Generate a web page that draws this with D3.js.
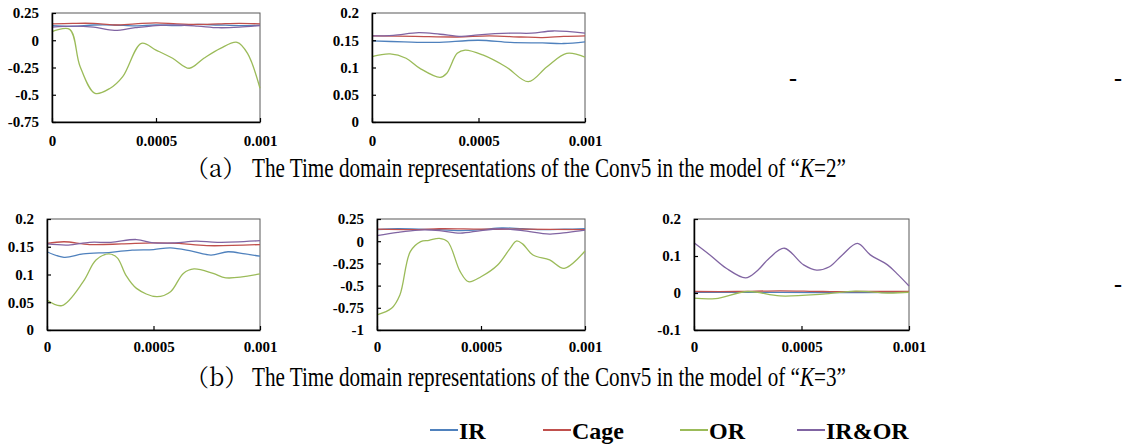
<!DOCTYPE html>
<html>
<head>
<meta charset="utf-8">
<script src="https://cdn.jsdelivr.net/npm/d3@7"></script>
<style>
  body { margin: 0; background: #fff; }
  svg { display: block; }
  .tick text { font-family: "Times New Roman", "Liberation Serif", serif; font-weight: bold; font-size: 15px; fill: #000; }
</style>
</head>
<body>
<svg id="chart" width="1123" height="445"></svg>
<script>
// time is written in units of 1e-5 s
const seriesNames = ["IR", "Cage", "OR", "IR&OR"];
const seriesColors = ["#4f81bd", "#c0504d", "#9bbb59", "#8064a2"];
const xTicks = [0, 0.0005, 0.001];

// (a) K=2, left panel
const a1IR = [[0,0.135],[10,0.128],[20,0.14],[30,0.14],[40,0.132],[50,0.14],[60,0.135],[70,0.145],[80,0.14],[90,0.135],[100,0.138]];
const a1Cage = [[0,0.15],[10,0.155],[20,0.155],[30,0.14],[40,0.15],[50,0.16],[60,0.15],[70,0.145],[80,0.15],[90,0.155],[100,0.15]];
const a1OR = [[0,0.079],[8.5,0.10],[13.5,-0.24],[20.7,-0.487],[28,-0.44],[34,-0.334],[43,-0.028],[50,-0.09],[58,-0.165],[66,-0.257],[73,-0.165],[81,-0.074],[89,-0.019],[94,-0.12],[100,-0.44]];
const a1IROR = [[0,0.12],[10,0.13],[20,0.12],[30,0.09],[40,0.115],[50,0.135],[60,0.14],[70,0.13],[80,0.115],[90,0.12],[100,0.135]];
const a1YTicks = [0.25, 0, -0.25, -0.5, -0.75];

// (a) K=2, middle panel
const a2IR = [[0,0.149],[15,0.147],[30,0.146],[50,0.15],[65,0.146],[80,0.145],[90,0.144],[100,0.147]];
const a2Cage = [[0,0.158],[20,0.157],[40,0.156],[55,0.158],[70,0.156],[80,0.155],[90,0.157],[100,0.158]];
const a2OR = [[0,0.12],[8.5,0.125],[16,0.117],[22.5,0.0985],[32,0.082],[35,0.089],[40,0.126],[43.7,0.132],[52,0.123],[63,0.101],[73.4,0.074],[82,0.101],[91.4,0.126],[100,0.119]];
const a2IROR = [[0,0.158],[10,0.159],[22,0.164],[32,0.161],[42,0.157],[50,0.16],[65,0.163],[75,0.163],[85,0.167],[100,0.163]];
const a2YTicks = [0.2, 0.15, 0.1, 0.05, 0];

// (b) K=3, left panel
const b1IR = [[0,0.141],[8,0.131],[17,0.137],[30,0.14],[40,0.144],[50,0.145],[58,0.148],[68,0.142],[77,0.135],[85,0.141],[93,0.137],[100,0.133]];
const b1Cage = [[0,0.156],[8,0.159],[20,0.154],[35,0.155],[50,0.157],[62,0.156],[75,0.152],[100,0.154]];
const b1OR = [[0,0.054],[7,0.044],[17,0.087],[23,0.126],[29,0.137],[33,0.13],[37,0.099],[42,0.075],[51.5,0.06],[58,0.069],[64,0.102],[69,0.11],[78,0.102],[84,0.094],[100,0.101]];
const b1IROR = [[0,0.155],[10,0.153],[20,0.158],[30,0.158],[42,0.163],[50,0.157],[60,0.157],[70,0.16],[80,0.158],[100,0.161]];
const b1YTicks = [0.2, 0.15, 0.1, 0.05, 0];

// (b) K=3, middle panel
const b2IR = [[0,0.13],[10,0.14],[20,0.135],[30,0.13],[40,0.12],[50,0.13],[60,0.15],[70,0.14],[80,0.13],[90,0.135],[100,0.14]];
const b2Cage = [[0,0.135],[20,0.13],[30,0.14],[50,0.135],[70,0.135],[100,0.13]];
const b2OR = [[0,-0.83],[7,-0.756],[11,-0.606],[16,-0.118],[21,-0.005],[25,0.01],[30,0.032],[34,-0.005],[40,-0.343],[44,-0.456],[50,-0.4],[58,-0.268],[64,-0.08],[67,0.002],[70,-0.03],[75,-0.155],[83,-0.21],[90,-0.305],[100,-0.11]];
const b2IROR = [[0,0.062],[10,0.1],[20,0.125],[30,0.12],[40,0.09],[50,0.12],[60,0.14],[70,0.12],[83,0.08],[92,0.1],[100,0.125]];
const b2YTicks = [0.25, 0, -0.25, -0.5, -0.75, -1];

// (b) K=3, right panel
const b3IR = [[0,0.002],[30,0.002],[60,0.001],[100,0.002]];
const b3Cage = [[0,0.004],[20,0.004],[40,0.006],[60,0.004],[80,0.004],[100,0.004]];
const b3OR = [[0,-0.014],[10,-0.015],[25,0.004],[40,-0.008],[60,-0.003],[75,0.005],[90,0.0],[100,0.002]];
const b3IROR = [[0,0.136],[7.4,0.103],[15,0.067],[24,0.041],[29,0.058],[35,0.094],[42,0.121],[51,0.076],[57,0.062],[63,0.071],[69,0.103],[76,0.134],[82,0.103],[90,0.076],[95,0.049],[100,0.019]];
const b3YTicks = [0.2, 0.1, 0, -0.1];

const captionText = "The Time domain representations of the Conv5 in the model of \u201C";

const svg = d3.select("#chart");
const serif = '"Times New Roman", "Liberation Serif", serif';

const panels = [
  { box: [52, 13, 260, 122], yTicks: a1YTicks, series: [a1IR, a1Cage, a1OR, a1IROR], pad: 13 },
  { box: [372, 13, 585, 122], yTicks: a2YTicks, series: [a2IR, a2Cage, a2OR, a2IROR], pad: 13 },
  { box: [47, 219, 260, 330], yTicks: b1YTicks, series: [b1IR, b1Cage, b1OR, b1IROR], pad: 11 },
  { box: [377, 219, 585, 330], yTicks: b2YTicks, series: [b2IR, b2Cage, b2OR, b2IROR], pad: 11 },
  { box: [694, 219, 909, 330], yTicks: b3YTicks, series: [b3IR, b3Cage, b3OR, b3IROR], pad: 11 }
];

panels.forEach(p => {
  const [x0, y0, x1, y1] = p.box;
  const x = d3.scaleLinear().domain([0, 0.001]).range([x0, x1]);
  const y = d3.scaleLinear().domain(d3.extent(p.yTicks)).range([y1, y0]);
  const g = svg.append("g");

  g.append("rect")
    .attr("x", x0).attr("y", y0)
    .attr("width", x1 - x0).attr("height", y1 - y0)
    .attr("fill", "none").attr("stroke", "#595959").attr("stroke-width", 1);

  const myLine = d3.line()
    .x(d => x(d[0] * 1e-5))
    .y(d => y(d[1]))
    .curve(d3.curveCatmullRom.alpha(0.5));

  g.selectAll(".line")
    .data(p.series)
    .join("path")
    .attr("class", "line")
    .attr("d", myLine)
    .attr("fill", "none")
    .attr("stroke", (d, i) => seriesColors[i])
    .attr("stroke-width", 1.3);

  const yAxis = d3.axisLeft(y)
    .tickValues(p.yTicks)
    .tickFormat(d => String(+d.toFixed(2)))
    .tickSizeInner(-4).tickSizeOuter(0).tickPadding(13);
  g.append("g")
    .attr("transform", `translate(${x0},0)`)
    .call(yAxis)
    .call(a => a.select(".domain").attr("stroke", "#000").attr("stroke-width", 1.5));

  const xAxis = d3.axisBottom(x)
    .tickValues(xTicks)
    .tickFormat(d => String(d))
    .tickSizeInner(-4).tickSizeOuter(0).tickPadding(p.pad);
  g.append("g")
    .attr("transform", `translate(0,${y1})`)
    .call(xAxis)
    .call(a => a.select(".domain").attr("stroke", "#000").attr("stroke-width", 1.5));

  g.selectAll(".tick line").attr("stroke", "#000").attr("stroke-width", 1.2);
});

// stray minus signs left over in the figure
[[793, 86], [1118, 86], [1118, 292]].forEach(([cx, cy]) => {
  svg.append("text")
    .attr("x", cx).attr("y", cy)
    .attr("text-anchor", "middle")
    .attr("font-family", serif).attr("font-weight", "bold").attr("font-size", 24)
    .text("-");
});

// captions: condensed serif, squeezed to the width of the original
function caption(label, k, yBase) {
  svg.append("text")
    .attr("x", 185).attr("y", yBase)
    .attr("font-family", '"Noto Serif CJK SC", "Noto Sans CJK SC", serif')
    .attr("font-size", 24)
    .text("\uFF08" + label + "\uFF09");
  const t = svg.append("text")
    .attr("font-family", serif)
    .attr("font-size", 27);
  t.append("tspan").text(captionText);
  t.append("tspan").attr("font-style", "italic").text("K");
  t.append("tspan").text("=" + k + "\u201D");
  const w = t.node().getComputedTextLength();
  t.attr("transform", `translate(252,${yBase}) scale(${594 / w},1)`);
}
caption("a", 2, 177);
caption("b", 3, 386);

// legend
const legendX = [430, 543, 680, 797];
const legend = svg.append("g");
seriesNames.forEach((name, i) => {
  legend.append("line")
    .attr("x1", legendX[i]).attr("x2", legendX[i] + 28)
    .attr("y1", 430).attr("y2", 430)
    .attr("stroke", seriesColors[i]).attr("stroke-width", 2);
  legend.append("text")
    .attr("x", legendX[i] + 29).attr("y", 439)
    .attr("font-family", serif).attr("font-weight", "bold").attr("font-size", 24)
    .text(name);
});
</script>
</body>
</html>
